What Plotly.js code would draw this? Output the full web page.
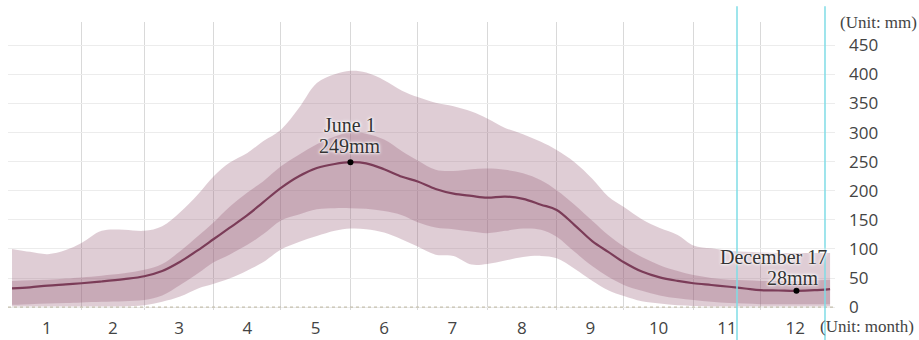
<!DOCTYPE html>
<html>
<head>
<meta charset="utf-8">
<script src="https://cdn.plot.ly/plotly-3.0.1.min.js"></script>
<style>
html,body{margin:0;padding:0;background:#fff;}
#chart{width:919px;height:340px;}
</style>
</head>
<body>
<div id="chart"></div>
<script>
// Day of year (Jan 1 = 0)
const days = [0,8,16,24,31,40,50,59,67,75,83,90,97,105,112,120,128,136,144,151,158,166,174,181,189,197,205,212,220,228,236,243,251,259,266,273,281,289,297,304,312,320,327,334,342,350,358,365];
// Median precipitation (mm)
const median = [32,34,37,39,41,44,48,53,62,78,98,117,136,158,180,205,225,239,246,249,247,237,224,216,203,195,191,188,190,186,176,167,141,113,95,77,61,51,45,41,38,35,32,29,28.5,28,29,31];
// Inner band (dark)
const innerUp = [45,46,47,49,51,54,58,64,74,96,122,146,172,197,216,242,262,280,293,301,298,288,268,252,236,234,237,238,236,230,218,201,176,148,124,104,86,72,62,55,50,47,46,45,45,45,46,47];
const innerLo = [4,5,6,7,8,9,10,12,20,38,58,77,90,107,125,149,159,168,170,170,169,165,158,146,137,134,130,127,131,135,133,121,95,70,52,38,28,20,15,12,9,7,6,5,5,5,5,5];
// Outer band (light)
const outerUp = [100,95,91,98,110,131,133,131,139,163,194,225,248,265,285,305,342,385,400,406,403,390,372,361,351,345,336,324,308,297,284,270,249,220,190,172,151,136,124,106,101,97,95,94,93,93,93,93];
const outerLo = [1,1,1,1,1,1,1,3,9,18,32,40,49,63,77,99,112,122,131,135,134,128,116,104,90,88,73,74,80,86,88,84,66,45,29,19,10,6,3,2,1,1,1,1,1,1,1,1];
// Months
const monthLabels = ['1','2','3','4','5','6','7','8','9','10','11','12'];
const monthLengths = [31,28,31,30,31,30,31,31,30,31,30,31];
const yTicks = [0,50,100,150,200,250,300,350,400,450];
// Highlighted points
const markDays = [151, 350];
const markNames = ['June 1', 'December 17'];

const boundaries = [0];
monthLengths.forEach(l => boundaries.push(boundaries[boundaries.length-1] + l));
const innerBoundaries = boundaries.slice(1, -1);
const mids = monthLengths.map((l,i) => boundaries[i] + l/2);
const markVals = markDays.map(d => median[days.indexOf(d)]);

const band = 'rgba(150,90,115,0.30)';
const serif = '"Liberation Serif", "Times New Roman", serif';
const halo = '0 0 2px #fff, 0 0 3px #fff, 0 0 4px #fff';

const traces = [
  {x: days, y: outerLo, mode:'lines', line:{width:0, shape:'spline'}, hoverinfo:'skip', showlegend:false},
  {x: days, y: outerUp, mode:'lines', fill:'tonexty', fillcolor:band, line:{width:0, shape:'spline'}, hoverinfo:'skip', showlegend:false},
  {x: days, y: innerLo, mode:'lines', line:{width:0, shape:'spline'}, hoverinfo:'skip', showlegend:false},
  {x: days, y: innerUp, mode:'lines', fill:'tonexty', fillcolor:band, line:{width:0, shape:'spline'}, hoverinfo:'skip', showlegend:false},
  {x: days, y: median, mode:'lines', line:{width:2.2, color:'#7b3c58', shape:'spline'}, showlegend:false},
  {x: markDays, y: markVals, mode:'markers', marker:{color:'#000', size:6}, showlegend:false}
];

const annotations = [
  {x: markDays[0], y: markVals[0], xref:'x', yref:'y', text: markNames[0], showarrow:false, yshift:37, xanchor:'center', yanchor:'middle', font:{family:serif, size:20, color:'#333', shadow:halo}},
  {x: markDays[0], y: markVals[0], xref:'x', yref:'y', text: markVals[0] + 'mm', showarrow:false, yshift:16, xanchor:'center', yanchor:'middle', font:{family:serif, size:20, color:'#333', shadow:halo}},
  {x: markDays[1], y: markVals[1], xref:'x', yref:'y', text: markNames[1], showarrow:false, yshift:34, xshift:-23, xanchor:'center', yanchor:'middle', font:{family:serif, size:20, color:'#333', shadow:halo}},
  {x: markDays[1], y: markVals[1], xref:'x', yref:'y', text: markVals[1] + 'mm', showarrow:false, yshift:13, xshift:-3, xanchor:'center', yanchor:'middle', font:{family:serif, size:20, color:'#333', shadow:halo}},
  {x: 1.052, y: 1.0, xref:'paper', yref:'paper', text:'(Unit: mm)', showarrow:false, xanchor:'center', yanchor:'middle', font:{family:serif, size:17, color:'#444'}},
  {x: 1.039, y: -0.058, xref:'paper', yref:'paper', text:'(Unit: month)', showarrow:false, xanchor:'center', yanchor:'middle', font:{family:serif, size:17, color:'#444'}}
];

const layout = {
  width: 919, height: 340,
  margin: {l:8, r:84, t:22, b:30, pad:0},
  paper_bgcolor:'#fff', plot_bgcolor:'#fff',
  showlegend:false,
  xaxis: {
    range:[-1.8, 367.2], tickmode:'array', tickvals: mids, ticktext: monthLabels,
    showgrid:false, zeroline:false, showline:false, ticks:'',
    tickfont:{family:'"Open Sans", sans-serif', size:17, color:'#444'},
    ticklabelstandoff: 6,
    minor:{tickmode:'array', tickvals: innerBoundaries, showgrid:true, gridcolor:'#d9d9d9', gridwidth:1, ticks:''}
  },
  yaxis: {
    range:[-5, 490], side:'right', tickmode:'array', tickvals: yTicks, ticktext: yTicks.map(String),
    showgrid:true, gridcolor:'#ececec', gridwidth:1, zeroline:false, showline:false, ticks:'',
    tickfont:{family:'"Open Sans", sans-serif', size:17, color:'#444'},
    ticklabelstandoff: 13
  },
  shapes: [
    {type:'line', xref:'paper', yref:'y', x0:0, x1:1, y0:0, y1:0, line:{color:'#b9b29c', width:1, dash:'dot'}},
    {type:'line', xref:'paper', yref:'paper', x0:0.8815, x1:0.8815, y0:-0.11, y1:1.055, line:{color:'#7fdce6', width:1.5}},
    {type:'line', xref:'paper', yref:'paper', x0:0.9879, x1:0.9879, y0:-0.11, y1:1.055, line:{color:'#7fdce6', width:1.5}}
  ],
  annotations: annotations
};

Plotly.newPlot('chart', traces, layout, {staticPlot:true, displayModeBar:false});
</script>
</body>
</html>
